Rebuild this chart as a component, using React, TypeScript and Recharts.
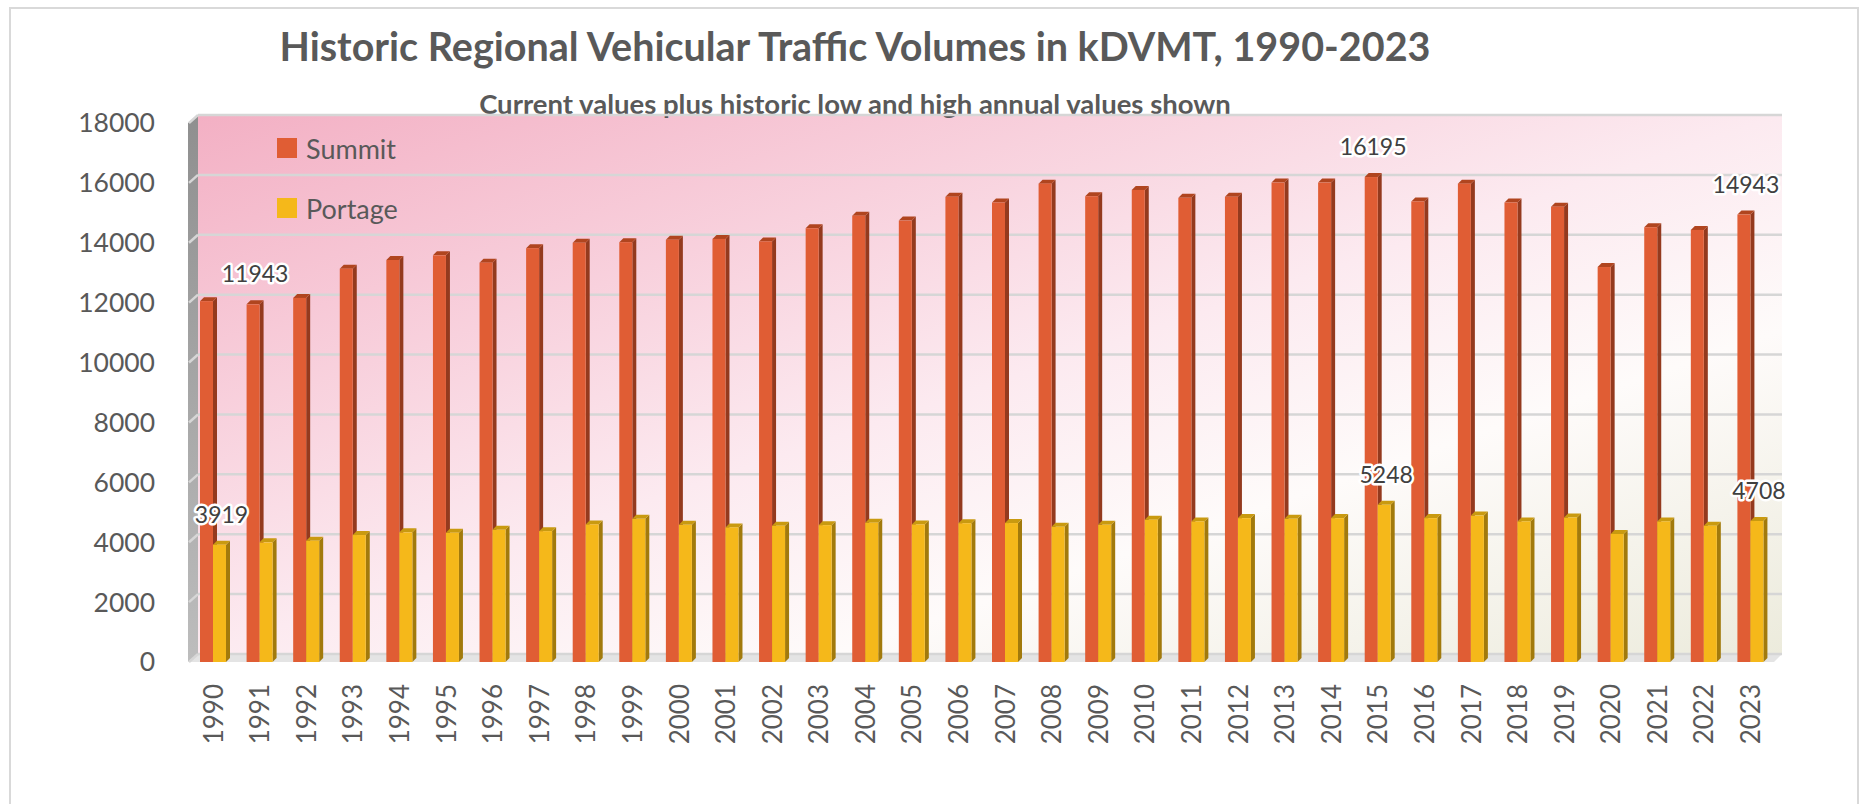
import React from 'react';
import { BarChart, Bar, XAxis, YAxis, CartesianGrid, Legend, LabelList } from 'recharts';

const years = [
  '1990', '1991', '1992', '1993', '1994', '1995', '1996', '1997', '1998', '1999',
  '2000', '2001', '2002', '2003', '2004', '2005', '2006', '2007', '2008', '2009',
  '2010', '2011', '2012', '2013', '2014', '2015', '2016', '2017', '2018', '2019',
  '2020', '2021', '2022', '2023',
];

const summit = [
  12050, 11943, 12160, 13135, 13425, 13580, 13335, 13820, 14000, 14020,
  14100, 14130, 14045, 14485, 14905, 14740, 15535, 15345, 15975, 15555,
  15765, 15500, 15535, 16010, 16010, 16195, 15380, 15975, 15345, 15205,
  13190, 14520, 14430, 14943,
];

const portage = [
  3919, 3995, 4050, 4240, 4330, 4315, 4415, 4370, 4595, 4780,
  4580, 4495, 4550, 4570, 4650, 4595, 4635, 4640, 4515, 4580,
  4750, 4695, 4805, 4780, 4805, 5248, 4805, 4890, 4695, 4825,
  4275, 4695, 4550, 4708,
];

const yTicks = [0, 2000, 4000, 6000, 8000, 10000, 12000, 14000, 16000, 18000];

const series = [
  { key: 'Summit', values: summit, front: '#E05D34', side: '#943A1E', top: '#B0451F' },
  { key: 'Portage', values: portage, front: '#F5B81A', side: '#A27A0C', top: '#C99A10' },
];

const data = years.map((year, i) => ({ year, Summit: summit[i], Portage: portage[i] }));

// layout of the front plane of the 3d plot
const W = 1872;
const H = 804;
const PLOT = { left: 190, right: 1774, top: 123, bottom: 662 };
const DEPTH = 8; // back wall offset
const BAR_D = 4; // bar depth
const FONT = 'Lato, "Open Sans", sans-serif';
const TEXT = '#595959';

const make3DBar = (front: string, side: string, top: string) => (props: any) => {
  const { x, y, width, height } = props;
  if (!height || height <= 0) return null;
  const d = BAR_D;
  return (
    <g>
      <polygon
        points={`${x + width},${y} ${x + width + d},${y - d} ${x + width + d},${y + height - d} ${x + width},${y + height}`}
        fill={side}
      />
      <polygon points={`${x},${y} ${x + d},${y - d} ${x + width + d},${y - d} ${x + width},${y}`} fill={top} />
      <rect x={x} y={y} width={width} height={height} fill={front} />
    </g>
  );
};

// only the current value and the historic low / high get a label
const makeLabel = (values: number[]) => (props: any) => {
  const { x, y, width, index } = props;
  const min = Math.min(...values);
  const max = Math.max(...values);
  const v = values[index];
  if (!(v === min || v === max || index === values.length - 1)) return null;
  return (
    <text
      x={x + width / 2 + BAR_D / 2}
      y={y - 30}
      dy="0.35em"
      textAnchor="middle"
      fontSize={23}
      fill="#404040"
      stroke="#fff"
      strokeWidth={5}
      strokeLinejoin="round"
      paintOrder="stroke"
      fontFamily={FONT}
    >
      {v}
    </text>
  );
};

const XTick = (props: any) => {
  const { x, y, payload } = props;
  return (
    <text
      x={x}
      y={y}
      dy="0.36em"
      transform={`rotate(-90, ${x}, ${y})`}
      textAnchor="end"
      fontSize={26}
      fill={TEXT}
      fontFamily={FONT}
    >
      {payload.value}
    </text>
  );
};

const gridLine = (p: any) => {
  const { x1, y1, x2, y2 } = p;
  return (
    <g key={`g-${y1}`}>
      <line x1={x1 + DEPTH} y1={y1 - DEPTH} x2={x2 + DEPTH} y2={y2 - DEPTH} stroke="#d6d6d6" strokeWidth={2.5} />
      <line x1={x1 - 1} y1={y1} x2={x1 + DEPTH} y2={y1 - DEPTH} stroke="#d6d6d6" strokeWidth={2.5} />
    </g>
  );
};

const LegendContent = () => (
  <div style={{ fontFamily: FONT, fontSize: 27, color: TEXT }}>
    {series.map((s) => (
      <div key={s.key} style={{ display: 'flex', alignItems: 'center', height: 40, marginBottom: 20 }}>
        <span style={{ width: 20, height: 20, background: s.front, display: 'inline-block', marginRight: 9 }} />
        <span>{s.key}</span>
      </div>
    ))}
  </div>
);

export default function App() {
  const back = { x: PLOT.left + DEPTH, y: PLOT.top - DEPTH, w: PLOT.right - PLOT.left, h: PLOT.bottom - PLOT.top };
  return (
    <div style={{ position: 'relative', width: W, height: H, background: '#fff', overflow: 'hidden' }}>
      <style>{'body{margin:0}'}</style>
      <div
        style={{
          position: 'absolute',
          left: 9,
          top: 7,
          width: 1846,
          height: 900,
          border: '2px solid #d9d9d9',
        }}
      />
      <svg width={W} height={H} style={{ position: 'absolute', left: 0, top: 0 }}>
        <defs>
          <linearGradient id="wall" x1="0" y1="0" x2="1" y2="1">
            <stop offset="0" stopColor="#F3B0C4" />
            <stop offset="0.5" stopColor="#FCEAF0" />
            <stop offset="0.7" stopColor="#FEFBFA" />
            <stop offset="1" stopColor="#ECEBDC" />
          </linearGradient>
          <linearGradient id="side" x1="0" y1="0" x2="0" y2="1">
            <stop offset="0" stopColor="#8f8f8f" />
            <stop offset="1" stopColor="#bdbdbd" />
          </linearGradient>
        </defs>
        <rect x={back.x} y={back.y} width={back.w} height={back.h} fill="url(#wall)" />
        <polygon
          points={`${PLOT.left - 2},${PLOT.top} ${back.x},${back.y} ${back.x},${back.y + back.h} ${PLOT.left - 2},${PLOT.bottom}`}
          fill="url(#side)"
        />
        <polygon
          points={`${PLOT.left - 2},${PLOT.bottom} ${back.x},${back.y + back.h} ${back.x + back.w},${back.y + back.h} ${PLOT.right},${PLOT.bottom}`}
          fill="#e4e4e4"
        />
      </svg>
      <div
        style={{
          position: 'absolute',
          left: 0,
          width: 1710,
          top: 25,
          textAlign: 'center',
          fontFamily: FONT,
          fontWeight: 700,
          fontSize: 39.5,
          lineHeight: '42px',
          color: TEXT,
        }}
      >
        Historic Regional Vehicular Traffic Volumes in kDVMT, 1990-2023
      </div>
      <div
        style={{
          position: 'absolute',
          left: 0,
          width: 1710,
          top: 89,
          textAlign: 'center',
          fontFamily: FONT,
          fontWeight: 700,
          fontSize: 27.5,
          lineHeight: '30px',
          color: TEXT,
        }}
      >
        Current values plus historic low and high annual values shown
      </div>
      <div style={{ position: 'absolute', left: 0, top: 0 }}>
        <BarChart
          width={W}
          height={H}
          data={data}
          barGap={0}
          barSize={13}
          margin={{ top: PLOT.top, right: W - PLOT.right, bottom: 82, left: PLOT.left - 80 }}
          style={{ fontFamily: FONT }}
        >
          <CartesianGrid vertical={false} horizontal={gridLine} />
          <XAxis
            dataKey="year"
            interval={0}
            tickLine={false}
            axisLine={false}
            tickSize={0}
            tickMargin={22}
            height={60}
            tick={<XTick />}
          />
          <YAxis
            domain={[0, 18000]}
            ticks={yTicks}
            width={80}
            tickLine={false}
            axisLine={false}
            tickSize={0}
            tickMargin={35}
            tick={{ fill: TEXT, fontSize: 26.5, fontFamily: FONT }}
          />
          <Legend
            layout="vertical"
            align="center"
            verticalAlign="middle"
            content={<LegendContent />}
            wrapperStyle={{ position: 'absolute', left: 277, top: 128, width: 200, height: 130 }}
          />
          {series.map((s) => (
            <Bar
              key={s.key}
              dataKey={s.key}
              fill={s.front}
              isAnimationActive={false}
              shape={make3DBar(s.front, s.side, s.top)}
            >
              <LabelList dataKey={s.key} content={makeLabel(s.values)} />
            </Bar>
          ))}
        </BarChart>
      </div>
    </div>
  );
}
